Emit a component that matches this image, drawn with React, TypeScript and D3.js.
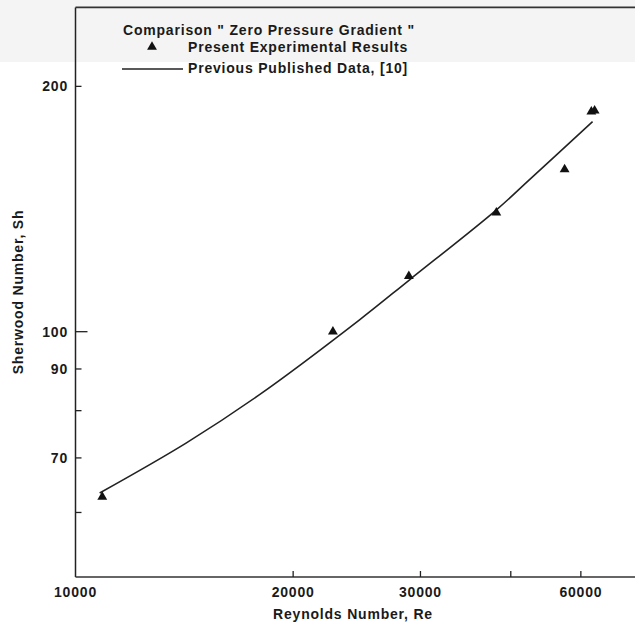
import React from "react";
import * as d3 from "d3";

// Present experimental results (Re, Sh)
const expRe = [10890, 22700, 28910, 38200, 47480, 51700, 52240];
const expSh = [62.7, 100.0, 117.0, 140.0, 158.2, 186.2, 186.7];

// Previous published data [10] (Re, Sh)
const prevRe = [10800, 14220, 17970, 24710, 28980, 38180, 42460, 51900];
const prevSh = [63.4, 73.0, 83.7, 103.4, 115.8, 141.0, 153.7, 181.0];

const xTickValues = [10000, 20000, 30000, 40000, 50000];
const xTickLabels = ["10000", "20000", "30000", "", "60000"];
const yTickValues = [200, 100, 90, 80, 70, 60];
const yTickLabels = ["200", "100", "90", "", "70", ""];

const legendTitle = "Comparison \" Zero Pressure Gradient \"";
const legendExp = "Present Experimental Results";
const legendPrev = "Previous Published Data, [10]";
const xTitle = "Reynolds Number, Re";
const yTitle = "Sherwood Number, Sh";

export default function App() {
  const W = 635;
  const H = 627;
  const left = 75.5;
  const bottom = 577;
  const top = 7.4;
  const x = d3.scaleLog().domain([10000, 60000]).range([left, left + 723 * Math.log10(6)]);
  const y = d3.scaleLog().domain([50, 250]).range([bottom, top]);

  const line = d3
    .line<[number, number]>()
    .x((d) => x(d[0]))
    .y((d) => y(d[1]))
    .curve(d3.curveCatmullRom.alpha(0.5));
  const prevPts: [number, number][] = prevRe.map((r, i) => [r, prevSh[i]]);
  const tri = d3.symbol().type(d3.symbolTriangle).size(42)() as string;

  const font = {
    fontFamily: "'Liberation Sans', Arial, sans-serif",
    fontWeight: 700 as const,
    fontSize: 14,
    letterSpacing: "0.8px",
    fill: "#1a1a1a",
  };

  return (
    <svg width={W} height={H} style={{ position: "absolute", left: 0, top: 0, background: "#fff" }}>
      <rect x={0} y={0} width={W} height={62} fill="#f4f4f4" />
      {/* frame */}
      <line x1={left} x2={W} y1={top} y2={top} stroke="#333" strokeWidth={1.6} />
      <line x1={left} x2={left} y1={top} y2={bottom} stroke="#222" strokeWidth={1.5} />
      <line x1={left} x2={W} y1={bottom} y2={bottom} stroke="#333" strokeWidth={1.5} />

      {/* y ticks */}
      {yTickValues.map((v, i) => (
        <g key={"y" + v}>
          <line x1={left} x2={left + (v === 100 ? 12 : 6)} y1={y(v)} y2={y(v)} stroke="#222" strokeWidth={1.3} />
          {yTickLabels[i] && (
            <text x={68} y={y(v)} textAnchor="end" dominantBaseline="central" {...font}>
              {yTickLabels[i]}
            </text>
          )}
        </g>
      ))}

      {/* x ticks */}
      {xTickValues.map((v, i) => (
        <g key={"x" + v}>
          {v !== 10000 && (
            <line x1={x(v)} x2={x(v)} y1={bottom} y2={bottom - 6} stroke="#222" strokeWidth={1.3} />
          )}
          <text x={x(v)} y={592} textAnchor="middle" dominantBaseline="central" {...font}>
            {xTickLabels[i]}
          </text>
        </g>
      ))}

      {/* axis titles */}
      <text x={353} y={614} textAnchor="middle" dominantBaseline="central" {...font}>
        {xTitle}
      </text>
      <text
        transform={`translate(18,292) rotate(-90)`}
        textAnchor="middle"
        dominantBaseline="central"
        {...font}
      >
        {yTitle}
      </text>

      {/* previous data curve */}
      <path d={line(prevPts) || ""} fill="none" stroke="#222" strokeWidth={1.6} />

      {/* experimental triangles */}
      {expRe.map((r, i) => (
        <path key={"t" + i} d={tri} transform={`translate(${x(r)},${y(expSh[i])})`} fill="#111" />
      ))}

      {/* legend */}
      <text x={123} y={30} dominantBaseline="central" {...font}>
        {legendTitle}
      </text>
      <path d={tri} transform="translate(152,47)" fill="#111" />
      <text x={188} y={47} dominantBaseline="central" {...font}>
        {legendExp}
      </text>
      <line x1={122} x2={183} y1={69} y2={69} stroke="#222" strokeWidth={1.6} />
      <text x={188} y={68} dominantBaseline="central" {...font}>
        {legendPrev}
      </text>
    </svg>
  );
}
